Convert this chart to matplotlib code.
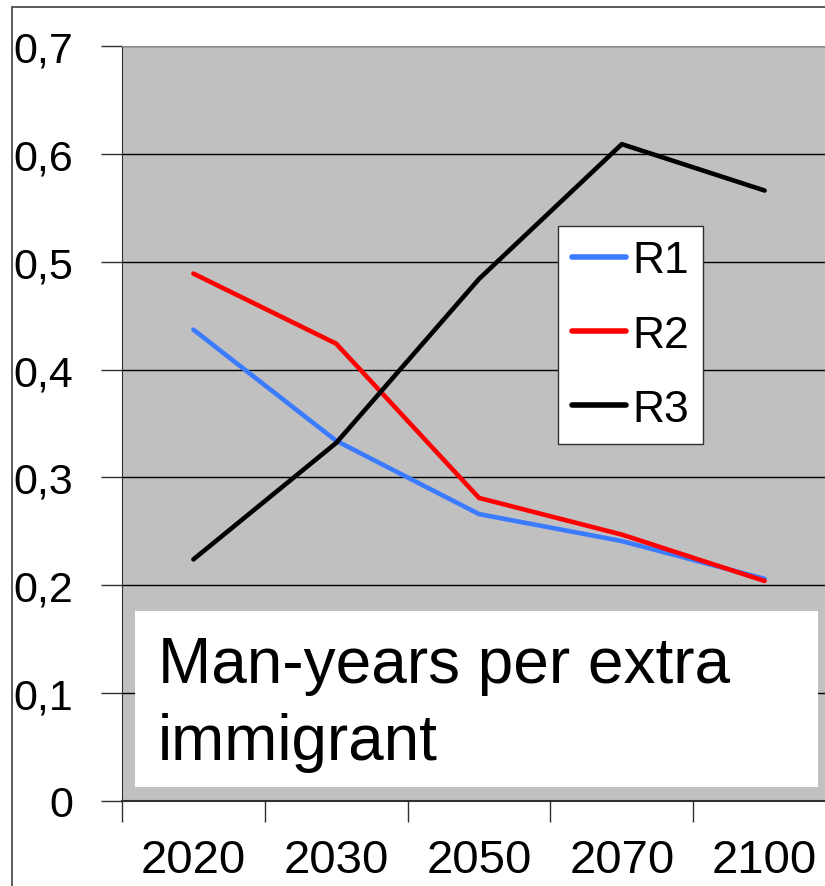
import matplotlib
matplotlib.use("Agg")
import matplotlib.pyplot as plt
from matplotlib.patches import Rectangle

years = ["2020", "2030", "2050", "2070", "2100"]
r1 = [0.437, 0.334, 0.266, 0.241, 0.206]
r2 = [0.489, 0.424, 0.281, 0.247, 0.204]
r3 = [0.224, 0.332, 0.484, 0.609, 0.566]
yticks = [0, 0.1, 0.2, 0.3, 0.4, 0.5, 0.6, 0.7]
ytick_labels = ["0", "0,1", "0,2", "0,3", "0,4", "0,5", "0,6", "0,7"]

plt.rcParams['font.family'] = ['Liberation Sans', 'DejaVu Sans']

W, H = 825, 887
fig = plt.figure(figsize=(W / 100, H / 100), dpi=100)
fig.patch.set_facecolor("white")

# outer frame
fig.add_artist(Rectangle((12 / W, -0.1), 1.2, 1 - 8 / H + 0.1, transform=fig.transFigure,
                         fill=False, edgecolor="#404040", linewidth=1.2))

left, right, top, bottom = 122, 836, 47, 802
ax = fig.add_axes([left / W, 1 - bottom / H, (right - left) / W, (bottom - top) / H])
ax.set_facecolor("#c0c0c0")

def ax_x(px):
    return (px - left) / (right - left)

def ax_y(py):
    return (bottom - py) / (bottom - top)

x = list(range(len(years)))
ax.plot(x, r1, color="#3b7bff", lw=3.3, label="R1", solid_capstyle="round")
ax.plot(x, r2, color="#ff0000", lw=3.3, label="R2", solid_capstyle="round")
ax.plot(x, r3, color="#000000", lw=3.3, label="R3", solid_capstyle="round")

ax.set_xlim(-0.5, len(years) - 0.5)
ax.set_ylim(0, 0.7)
ax.set_yticks(yticks)
ax.set_yticklabels(ytick_labels)
ax.yaxis.grid(True, color="#000000", lw=1.0)
ax.set_axisbelow(True)

ax.set_xticks([i - 0.5 for i in range(len(years))])
ax.set_xticklabels([])
ax.set_xticks(x, minor=True)
ax.set_xticklabels(years, minor=True)
ax.tick_params(axis="x", which="major", length=15, width=1, direction="out", color="#303030")
ax.tick_params(axis="x", which="minor", length=0, pad=27, labelsize=34)
ax.tick_params(axis="y", length=15, width=1, direction="out", color="#303030", labelsize=31, pad=20)

ax.spines["right"].set_visible(False)
ax.spines["top"].set_color("#909090")
ax.spines["left"].set_color("#303030")
ax.spines["bottom"].set_color("#303030")
ax.spines["bottom"].set_linewidth(1.5)

leg = ax.legend(loc="upper left", bbox_to_anchor=(ax_x(558), ax_y(227)),
                fontsize=32, frameon=True, fancybox=False, edgecolor="#303030",
                framealpha=1, facecolor="white",
                handlelength=1.2, handletextpad=0.15, borderpad=0.32, labelspacing=0.75,
                borderaxespad=0)
leg.get_frame().set_linewidth(1.0)
for h in leg.get_lines():
    h.set_linewidth(4)

ax.add_patch(Rectangle((ax_x(135), ax_y(788)), ax_x(818) - ax_x(135), ax_y(612) - ax_y(788),
                       transform=ax.transAxes, facecolor="white", edgecolor="none", zorder=9))
ax.text(ax_x(158), ax_y(683), "Man-years per extra", transform=ax.transAxes, fontsize=46,
        va="baseline", ha="left", zorder=10)
ax.text(ax_x(158), ax_y(760), "immigrant", transform=ax.transAxes, fontsize=46,
        va="baseline", ha="left", zorder=10)

fig.savefig("out.png", dpi=100)
